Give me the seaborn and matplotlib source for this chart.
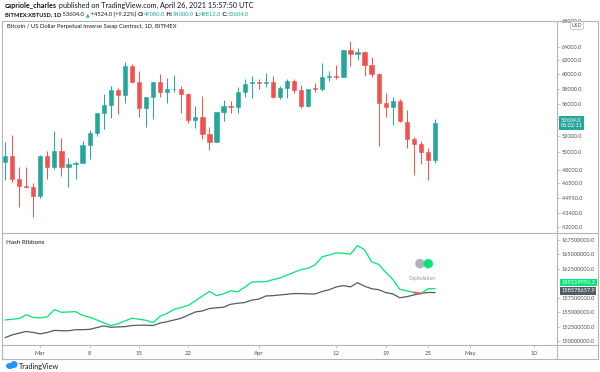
import numpy as np
import pandas as pd
import matplotlib
matplotlib.use("Agg")
import matplotlib.pyplot as plt
import seaborn as sns
from matplotlib.patches import Rectangle, Ellipse
from matplotlib.lines import Line2D
import matplotlib.ticker as mticker

# ---------------- data ----------------
dates = pd.date_range("2021-02-24", "2021-04-26", freq="D")

opens = [48860, 49580, 47000, 46250, 46110, 45150, 49580, 48360, 50200, 48290,
         48660, 48740, 50880, 52360, 54800, 55870, 57830, 57200, 61120, 58920,
         55520, 56890, 58920, 57530, 57960, 58050, 57340, 53950, 54290, 52170,
         51200, 54920, 55740, 55610, 57600, 58810, 58900, 58810, 58920, 56970,
         58100, 59150, 57870, 55740, 58100, 57960, 59660, 59840, 59660, 63550,
         62910, 63210, 61270, 60000, 56180, 55570, 56380, 53670, 51600, 51000,
         50020, 49080]
highs = [51270, 52050, 48360, 48290, 46510, 49700, 50170, 52580, 51690, 49320,
         49040, 51360, 52700, 54800, 57290, 58420, 58100, 61700, 61510, 60520,
         56890, 58920, 60040, 59470, 59900, 58420, 57440, 55740, 57060, 53100,
         54920, 56520, 56380, 58320, 59340, 59800, 59340, 60230, 59740, 58420,
         59340, 59340, 58550, 58000, 58870, 61570, 60460, 61270, 63550, 64910,
         63800, 63400, 62470, 60230, 57440, 56970, 56650, 55270, 51880, 51400,
         50550, 54000]
lows = [46870, 46620, 43970, 45970, 42950, 44910, 46990, 48070, 47350, 46150,
        46990, 48740, 49200, 51960, 52820, 54240, 54680, 56100, 58780, 54290,
        53100, 54050, 56970, 56180, 57630, 54870, 53530, 52910, 51600, 50280,
        51200, 53860, 54870, 54870, 56970, 56750, 57960, 58320, 56750, 56620,
        56750, 57440, 55440, 55650, 57630, 57730, 59150, 59340, 59600, 61210,
        62000, 59840, 59570, 50760, 54290, 53320, 53700, 50520, 47420, 48620,
        46870, 48812]
closes = [49580, 47000, 46250, 46110, 45150, 49580, 48360, 50200, 48290, 48660,
          48740, 50880, 52360, 54800, 55870, 57830, 57200, 61120, 58920, 55520,
          56890, 58920, 57530, 57960, 58050, 57340, 53950, 54290, 52170, 51200,
          54920, 55740, 55610, 57600, 58690, 58900, 58810, 58920, 56970, 58100,
          59150, 57870, 55740, 58000, 57960, 59620, 59840, 59660, 63550, 62910,
          63210, 61270, 60000, 56180, 55570, 56380, 53740, 51600, 51000, 50020,
          49080, 53604]

# Hash Ribbons (30d / 60d SMA of hash rate), in millions
hash_fast = [153.64, 153.76, 153.88, 154.54, 154.06, 154.00, 154.18, 155.44, 154.96, 155.02,
             155.08, 154.42, 154.12, 153.64, 153.16, 152.67, 152.97, 153.46, 153.94, 153.76,
             153.58, 153.16, 154.30, 154.78, 155.50, 155.80, 156.17, 156.95, 157.79, 158.57,
             157.85, 158.15, 158.69, 158.51, 159.30, 160.20, 160.26, 160.26, 160.62, 160.92,
             161.40, 161.89, 162.37, 162.61, 163.21, 164.59, 164.89, 165.26, 165.20, 165.02,
             166.52, 165.80, 163.69, 163.27, 161.89, 160.68, 158.94, 158.69, 158.40, 158.20,
             159.05, 159.05]
hash_slow = [150.57, 151.05, 151.35, 151.65, 151.47, 151.23, 151.47, 151.83, 151.77, 151.77,
             151.95, 151.95, 152.01, 152.31, 152.61, 152.37, 152.43, 152.49, 152.67, 152.73,
             152.73, 152.67, 153.10, 153.34, 153.64, 153.94, 154.48, 155.02, 155.20, 155.62,
             155.74, 155.86, 156.35, 156.53, 156.65, 157.07, 157.25, 157.79, 157.85, 157.97,
             158.09, 158.21, 158.21, 158.15, 158.15, 158.57, 158.88, 159.36, 159.60, 159.36,
             160.08, 159.48, 159.05, 158.88, 158.39, 158.15, 157.49, 157.67, 157.97, 158.27,
             158.39, 158.39]

price_ticks = [68000, 64000, 62000, 60000, 58000, 56000, 54000, 52000, 50000,
               48000, 46500, 44950, 43400, 42000]
hash_ticks = [150000000, 152500000, 155000000, 157500000, 162500000, 165000000, 167500000]
date_ticks = ["2021-03-01", "2021-03-08", "2021-03-15", "2021-03-22", "2021-04-01",
              "2021-04-12", "2021-04-19", "2021-04-25", "2021-05-01", "2021-05-10"]
date_labels = ["Mar", "8", "15", "22", "Apr", "12", "19", "25", "May", "10"]

# ---------------- style ----------------
sns.set_theme(style="white")
plt.rcParams["font.family"] = ["Lato", "DejaVu Sans"]

GREEN = "#26a69a"
RED = "#ef5350"
FAST = "#00e676"
SLOW = "#555a66"
TXT = "#131722"
AX = "#50535e"
BORDER = "#b2b5be"

W, H = 600, 372
def fx(px): return px / W
def fy(py): return 1 - py / H

fig = plt.figure(figsize=(6, 3.72), dpi=100)
fig.patch.set_facecolor("white")

TOP, MID, BOT, AXB = 20.5, 233, 345, 359
LEFT, RIGHT = 2, 557
ax = fig.add_axes([fx(LEFT), fy(MID), fx(RIGHT) - fx(LEFT), (MID - TOP) / H])
ax2 = fig.add_axes([fx(LEFT), fy(BOT), fx(RIGHT) - fx(LEFT), (BOT - MID) / H], sharex=ax)

x = np.arange(len(dates))
o = np.array(opens, float); h = np.array(highs, float)
l = np.array(lows, float); c = np.array(closes, float)
colors = np.where(c >= o, GREEN, RED)

ax.set_yscale("log")
ax.vlines(x, l, h, colors=colors, lw=0.7, zorder=2)
lo = np.minimum(o, c); hi = np.maximum(o, c)
ax.bar(x, hi - lo, bottom=lo, width=0.6, color=colors, edgecolor=colors, lw=0.4, zorder=3)

xmin, xmax = -0.43, 78.3
ax.set_xlim(xmin, xmax)
ax.set_ylim(41400, 68065)

ax.yaxis.tick_right()
ax.yaxis.set_major_locator(mticker.FixedLocator(price_ticks))
ax.yaxis.set_major_formatter(mticker.FixedFormatter([f"{v:.1f}" for v in price_ticks]))
ax.yaxis.set_minor_locator(mticker.NullLocator())
ax.tick_params(axis="y", which="both", right=True, length=2, width=0.5, colors=BORDER,
               labelcolor=AX, labelsize=4.1, pad=1.5)
ax.tick_params(axis="x", bottom=False, labelbottom=False)
for s in ax.spines.values():
    s.set_visible(False)

# --- hash ribbons with seaborn
hdf = pd.DataFrame({
    "idx": np.concatenate([x, x]),
    "value": np.concatenate([np.array(hash_fast) * 1e6, np.array(hash_slow) * 1e6]),
    "series": ["fast"] * len(x) + ["slow"] * len(x),
})
sns.lineplot(data=hdf, x="idx", y="value", hue="series", hue_order=["slow", "fast"],
             palette={"fast": FAST, "slow": SLOW}, legend=False, ax=ax2, lw=0.9)
hf = np.array(hash_fast) * 1e6; hs = np.array(hash_slow) * 1e6
for i in range(1, len(x)):
    if hf[i] < hs[i]:
        ax2.plot(x[i - 1:i + 1], hf[i - 1:i + 1], color="#ff4d4d", lw=1.3, zorder=5)

ax2.set_ylim(149.3e6, 168.7e6)
ax2.yaxis.tick_right()
ax2.yaxis.set_major_locator(mticker.FixedLocator(hash_ticks))
ax2.yaxis.set_major_formatter(mticker.FixedFormatter([f"{v:.1f}" for v in hash_ticks]))
ax2.tick_params(axis="y", right=True, length=2, width=0.5, colors=BORDER,
                labelcolor=AX, labelsize=4.1, pad=1.5)
ax2.set_xlabel(""); ax2.set_ylabel("")
tick_idx = [(pd.Timestamp(d) - dates[0]).days for d in date_ticks]
ax2.set_xticks(tick_idx)
ax2.set_xticklabels(date_labels)
ax2.tick_params(axis="x", bottom=True, length=2, width=0.5, colors=BORDER,
                labelcolor=AX, labelsize=4.3, pad=2)
for s in ax2.spines.values():
    s.set_visible(False)
ax2.set_xlim(xmin, xmax)

# last value labels on indicator scale
ax2.annotate("159219996.2", xy=(1.0, (BOT - 282.5) / (BOT - MID)),
             xycoords="axes fraction", xytext=(3, 0), textcoords="offset points",
             fontsize=4.1, color="white", va="center", ha="left",
             bbox=dict(boxstyle="square,pad=0.25", fc=FAST, ec="none"))
ax2.annotate("158578657.9", xy=(1.0, (BOT - 290.7) / (BOT - MID)),
             xycoords="axes fraction", xytext=(3, 0), textcoords="offset points",
             fontsize=4.1, color="white", va="center", ha="left",
             bbox=dict(boxstyle="square,pad=0.25", fc=SLOW, ec="none"))

# last price label
ax.annotate(f"{closes[-1]:.1f}\n06:02:11", xy=(1.0, closes[-1]), xycoords=("axes fraction", "data"),
            xytext=(2.5, -0.5), textcoords="offset points", fontsize=4.1, color="white",
            va="center", ha="left", linespacing=1.1, zorder=10,
            bbox=dict(boxstyle="square,pad=0.3", fc=GREEN, ec="none"))

# USD badge
fig.text(fx(577), fy(25.5), "USD", fontsize=3.8, color=AX, ha="center", va="center",
         bbox=dict(boxstyle="round,pad=0.25,rounding_size=0.3", fc="white", ec=BORDER, lw=0.5))

# capitulation legend
ax2.add_patch(Ellipse((0.753, 0.726), 0.017, 0.017 * 555 / 112, transform=ax2.transAxes,
                      fc="#b0b3b8", ec="none", zorder=4))
ax2.add_patch(Ellipse((0.768, 0.726), 0.017, 0.017 * 555 / 112, transform=ax2.transAxes,
                      fc=FAST, ec="none", zorder=5))
ax2.text(0.758, 0.59, "Capitulation", transform=ax2.transAxes, fontsize=3.6,
         color="#9598a1", ha="center", va="center")

# panel titles
fig.text(fx(7), fy(26.5), "Bitcoin / US Dollar Perpetual Inverse Swap Contract, 1D, BITMEX",
         fontsize=4.2, color=TXT, ha="left", va="center")
fig.text(fx(6), fy(243), "Hash Ribbons", fontsize=4.5, color=TXT, ha="left", va="center")

# frame lines
fig.add_artist(Rectangle((fx(2), fy(AXB)), fx(598) - fx(2), (AXB - TOP) / H, transform=fig.transFigure,
                         fill=False, ec=BORDER, lw=0.8))
fig.add_artist(Line2D([fx(RIGHT), fx(RIGHT)], [fy(AXB), fy(TOP)], transform=fig.transFigure, color=BORDER, lw=0.8))
fig.add_artist(Line2D([fx(2), fx(598)], [fy(MID), fy(MID)], transform=fig.transFigure, color=BORDER, lw=0.8))
fig.add_artist(Line2D([fx(2), fx(598)], [fy(BOT), fy(BOT)], transform=fig.transFigure, color=BORDER, lw=0.8))

# header line 1
fs1 = 5.2
t = fig.text(fx(5), fy(8.3), "capriole_charles", fontsize=fs1, color=TXT, weight="bold",
             ha="left", va="baseline")
ax.annotate(" published on TradingView.com, April 26, 2021 15:57:50 UTC", xy=(1, 0), xycoords=t,
            fontsize=fs1, color=TXT, ha="left", va="bottom", annotation_clip=False)

# header line 2
fs2 = 4.15
parts = [("BITMEX:XBTUSD, 1D", TXT, "bold"), (" 53604.0 ", TXT, "normal"), ("▲", GREEN, "normal"),
         (" +4524.0 (+9.22%) ", TXT, "normal"), ("O:", TXT, "bold"), ("49080.0", GREEN, "normal"),
         (" H:", TXT, "bold"), ("54000.0", GREEN, "normal"), (" L:", TXT, "bold"), ("48812.0", GREEN, "normal"),
         (" C:", TXT, "bold"), ("53604.0", GREEN, "normal")]
prev = None
for txt, col, wt in parts:
    fam = ["DejaVu Sans"] if txt == "▲" else ["Lato", "DejaVu Sans"]
    if prev is None:
        prev = fig.text(fx(5), fy(16.3), txt, fontsize=fs2, color=col, weight=wt, ha="left",
                        va="baseline", family=fam)
    else:
        prev = ax.annotate(txt, xy=(1, 0), xycoords=prev, fontsize=fs2 * (0.8 if txt == "▲" else 1),
                           color=col, weight=wt, ha="left", va="bottom", annotation_clip=False,
                           family=fam)

# TradingView footer
fig.add_artist(Ellipse((fx(10), fy(366)), 8 / W, 6 / H, transform=fig.transFigure, fc="#2196f3", ec="none"))
fig.add_artist(Ellipse((fx(14), fy(364.5)), 7 / W, 7 / H, transform=fig.transFigure, fc="#2196f3", ec="none"))
fig.text(fx(19), fy(366), "TradingView", fontsize=5.2, color=TXT, ha="left", va="center")

fig.savefig("out.png", dpi=100, facecolor="white")
